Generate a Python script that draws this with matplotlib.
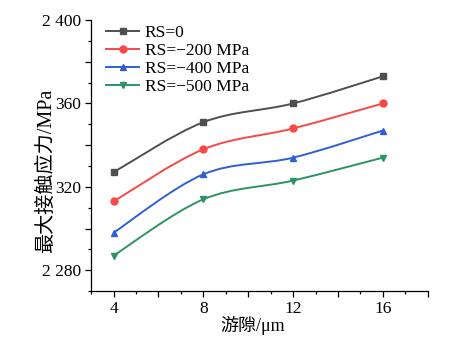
import matplotlib
matplotlib.use("Agg")
import matplotlib.pyplot as plt
from matplotlib.path import Path
from matplotlib.patches import PathPatch
from matplotlib.ticker import MultipleLocator, FuncFormatter

plt.rcParams['font.family'] = ['Liberation Serif', 'Noto Sans CJK SC', 'DejaVu Sans']

clearance = [4, 8, 12, 16]
rs0 = [2327, 2351, 2360, 2373]
rs200 = [2313, 2338, 2348, 2360]
rs400 = [2298, 2326, 2334, 2347]
rs500 = [2287, 2314, 2323, 2334]
series = [rs0, rs200, rs400, rs500]
labels = ['RS=0', 'RS=\u2212200 MPa', 'RS=\u2212400 MPa', 'RS=\u2212500 MPa']
colors = ['#4f4f4f', '#f84848', '#2f5fd3', '#2b9462']
markers = ['s', 'o', '^', 'v']

ytick_vals = [2280, 2320, 2360, 2400]
ytick_text = ['2 280', '320', '360', '2 400']


def smooth_path(x, y):
    # Catmull-Rom converted to cubic bezier segments
    verts = [(x[0], y[0])]
    codes = [Path.MOVETO]
    n = len(x)
    for i in range(n - 1):
        x0, y0 = (x[i - 1], y[i - 1]) if i > 0 else (x[i], y[i])
        x1, y1 = x[i], y[i]
        x2, y2 = x[i + 1], y[i + 1]
        x3, y3 = (x[i + 2], y[i + 2]) if i + 2 < n else (x2, y2)
        c1 = (x1 + (x2 - x0) / 6, y1 + (y2 - y0) / 6)
        c2 = (x2 - (x3 - x1) / 6, y2 - (y3 - y1) / 6)
        verts += [c1, c2, (x2, y2)]
        codes += [Path.CURVE4] * 3
    return Path(verts, codes)


fig = plt.figure(figsize=(4.65, 3.4), dpi=100)
ax = fig.add_axes([0.196, 0.144, 0.724, 0.797])

for vals, lab, c, m in zip(series, labels, colors, markers):
    ax.add_patch(PathPatch(smooth_path(clearance, vals), fill=False,
                           edgecolor=c, lw=1.4, zorder=2))
    ax.plot(clearance, vals, linestyle='none', marker=m, color=c,
            markersize=5, zorder=3)
    ax.plot([], [], color=c, lw=1.4, marker=m, markersize=5, label=lab)

ax.set_xlim(3, 18)
ax.set_ylim(2270, 2400)

ax.xaxis.set_major_locator(MultipleLocator(2))
ax.xaxis.set_minor_locator(MultipleLocator(1))
ax.xaxis.set_major_formatter(FuncFormatter(
    lambda v, p: f'{int(round(v))}' if round(v) % 4 == 0 else ''))
ax.yaxis.set_major_locator(MultipleLocator(20))
ax.yaxis.set_minor_locator(MultipleLocator(10))
ax.yaxis.set_major_formatter(FuncFormatter(
    lambda v, p: ytick_text[ytick_vals.index(int(round(v)))]
    if int(round(v)) in ytick_vals else ''))

ax.tick_params(which='major', direction='out', length=4, width=0.9,
               labelsize=12.5, pad=3)
ax.tick_params(which='minor', direction='out', length=2.2, width=0.9)
for s in ['top', 'right']:
    ax.spines[s].set_visible(False)
for s in ['left', 'bottom']:
    ax.spines[s].set_linewidth(0.9)

ax.set_xlabel('游隙/μm', fontsize=13)
ax.set_ylabel('最大接触应力/MPa', fontsize=14.5)
ax.xaxis.set_label_coords(0.48, -0.09)
ax.yaxis.set_label_coords(-0.105, 0.443)

ax.legend(loc='upper left', bbox_to_anchor=(0.04, 0.988), frameon=False,
          fontsize=12.5, handlelength=1.9, handletextpad=0.3,
          labelspacing=0.1, borderaxespad=0.0, borderpad=0.1)

fig.savefig('out.png', dpi=100)
